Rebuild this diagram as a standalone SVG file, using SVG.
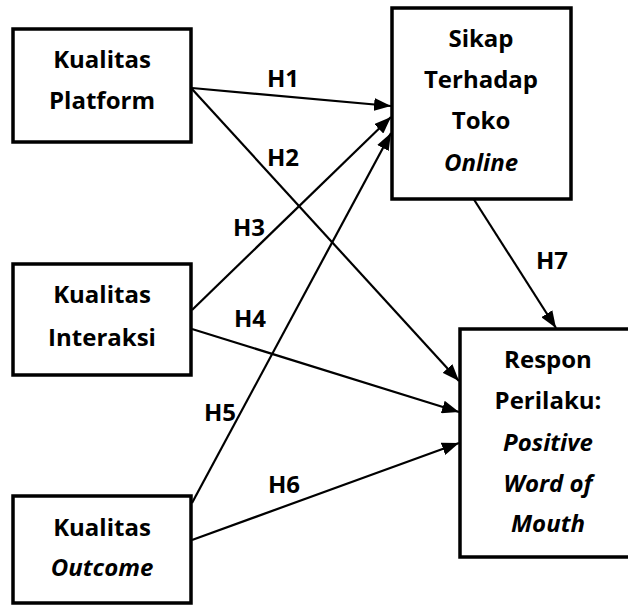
<svg xmlns="http://www.w3.org/2000/svg" width="628" height="605" viewBox="0 0 628 605">
<style>
.box{fill:#fff;stroke:#000;stroke-width:3.5}
.t{font-family:"Open Sans","Liberation Sans",sans-serif;font-weight:bold;font-size:24px;fill:#000;text-anchor:middle}
.i{font-style:italic}
.c{stroke:#000;stroke-width:2.2;fill:none;marker-end:url(#ah)}
</style>
<defs>
<marker id="ah" viewBox="0 0 17 13" refX="17" refY="6.5" markerWidth="17" markerHeight="13" markerUnits="userSpaceOnUse" orient="auto">
<path d="M0,0 L17,6.5 L0,13 Z" fill="#000"/>
</marker>
</defs>
<rect width="628" height="605" fill="#fff"/>
<g id="connectors">
<line class="c" x1="192" y1="88" x2="391" y2="106"/>
<line class="c" x1="192" y1="89" x2="459" y2="381"/>
<line class="c" x1="192" y1="310" x2="391" y2="117"/>
<line class="c" x1="192" y1="329" x2="459" y2="412"/>
<line class="c" x1="192" y1="503" x2="391" y2="133"/>
<line class="c" x1="192" y1="540" x2="459" y2="443"/>
<line class="c" x1="473" y1="198" x2="556" y2="328"/>
<text class="t" x="283" y="87">H1</text>
<text class="t" x="283" y="166">H2</text>
<text class="t" x="249" y="236">H3</text>
<text class="t" x="250" y="327">H4</text>
<text class="t" x="220" y="421">H5</text>
<text class="t" x="284" y="493">H6</text>
<text class="t" x="552" y="269">H7</text>
</g>
<g id="platform">
<rect class="box" x="13" y="29" width="178" height="113"/>
<text class="t" x="102" y="68">Kualitas</text>
<text class="t" x="102" y="109">Platform</text>
</g>
<g id="interaksi">
<rect class="box" x="13" y="264" width="178" height="111"/>
<text class="t" x="102" y="303">Kualitas</text>
<text class="t" x="102" y="346">Interaksi</text>
</g>
<g id="outcome">
<rect class="box" x="13" y="496" width="178" height="107"/>
<text class="t" x="102" y="536">Kualitas</text>
<text class="t i" x="102" y="576">Outcome</text>
</g>
<g id="sikap">
<rect class="box" x="392" y="8" width="179" height="191"/>
<text class="t" x="481" y="47">Sikap</text>
<text class="t" x="481" y="88">Terhadap</text>
<text class="t" x="481" y="129">Toko</text>
<text class="t i" x="481" y="171">Online</text>
</g>
<g id="respon">
<rect class="box" x="460" y="329" width="180" height="228"/>
<text class="t" x="548" y="368">Respon</text>
<text class="t" x="548" y="409">Perilaku:</text>
<text class="t i" x="548" y="451">Positive</text>
<text class="t i" x="548" y="492">Word of</text>
<text class="t i" x="548" y="532">Mouth</text>
</g>
</svg>
